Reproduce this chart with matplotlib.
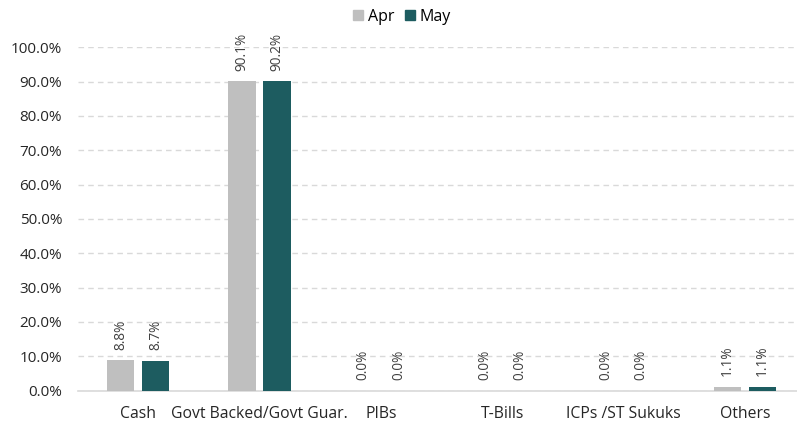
import matplotlib
matplotlib.use("Agg")
import matplotlib.pyplot as plt
import numpy as np
from matplotlib.ticker import PercentFormatter
from matplotlib.patches import Patch

categories = ["Cash", "Govt Backed/Govt Guar.", "PIBs", "T-Bills", "ICPs /ST Sukuks", "Others"]
apr = [8.8, 90.1, 0.0, 0.0, 0.0, 1.1]
may = [8.7, 90.2, 0.0, 0.0, 0.0, 1.1]
series_names = ["Apr", "May"]
colors = ["#BFBFBF", "#1D5C60"]

plt.rcParams["font.family"] = ["Open Sans", "DejaVu Sans"]

W, H = 797, 421
fig = plt.figure(figsize=(W / 100, H / 100), dpi=100)
ax = fig.add_axes([77.5 / W, 30.5 / H, (805.5 - 77.5) / W, (390.5 - 47.3) / H])

x = np.arange(len(categories))
bw = 0.225
off = 0.145
for vals, name, c, d in zip([apr, may], series_names, colors, [-off, off]):
    bars = ax.bar(x + d, vals, width=bw, color=c, label=name, zorder=3)
    for b, v in zip(bars, vals):
        ax.annotate(f"{v:.1f}%", (b.get_x() + b.get_width() / 2, b.get_height()),
                    xytext=(0, 7.5), textcoords="offset points", rotation=90,
                    ha="center", va="bottom", fontsize=9.8, color="#404040")

ax.set_xlim(-0.5, len(categories) - 0.5)
ax.set_ylim(0, 100)
ax.set_yticks(np.arange(0, 101, 10))
ax.yaxis.set_major_formatter(PercentFormatter(decimals=1))
ax.set_xticks(x)
ax.set_xticklabels(categories)
ax.tick_params(axis="both", length=0, colors="#262626")
ax.tick_params(axis="x", pad=11, labelsize=11.3)
ax.tick_params(axis="y", pad=11, labelsize=11)

ax.grid(axis="y", color="#D9D9D9", linestyle=(0, (4, 3)), linewidth=1, zorder=0)
for s in ["top", "right", "left"]:
    ax.spines[s].set_visible(False)
ax.spines["bottom"].set_color("#D9D9D9")
ax.spines["bottom"].set_linewidth(1.2)

handles = [Patch(color=c, label=n) for c, n in zip(colors, series_names)]
fig.legend(handles=handles, loc="center", bbox_to_anchor=(402 / W, 1 - 17 / H),
           ncol=2, frameon=False, fontsize=11.5, handlelength=0.6, handleheight=0.6,
           handletextpad=0.3, columnspacing=0.7)

fig.savefig("out.png", dpi=100)
